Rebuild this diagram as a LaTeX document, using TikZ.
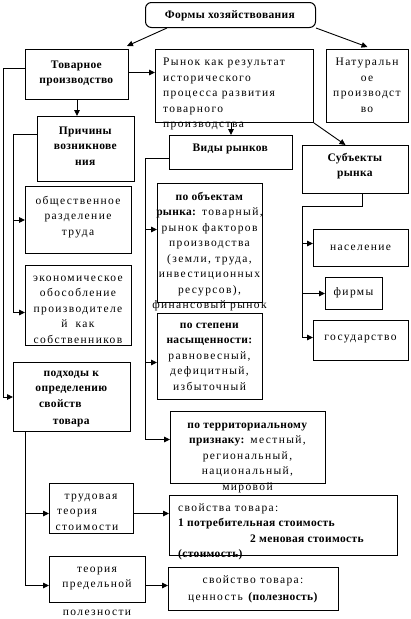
\documentclass[tikz,border=0pt]{standalone}
\usepackage{fontspec}
\setmainfont{Liberation Serif}[LetterSpace=12,BoldFeatures={LetterSpace=3}]
\usetikzlibrary{arrows.meta}
\begin{document}
\begin{tikzpicture}[x=1pt,y=-1pt,
  box/.style={draw,line width=1pt,inner sep=0pt,anchor=north west},
  txt/.style={inner sep=0pt,align=center,font=\fontsize{11.5pt}{15.5pt}\selectfont},
  txl/.style={txt,align=left,anchor=north west},
  ln/.style={line width=0.9pt},
  arr/.style={ln,-{Triangle[length=6pt,width=5.5pt]}}]
\useasboundingbox[fill=white] (0,0) rectangle (410,619);
\newcommand\rbox[6][]{\node[box,#1,minimum width=#5pt,minimum height=#6pt] (#2) at (#3,#4) {};}
% boxes
\rbox[rounded corners=6pt]{forms}{145}{2}{170}{25}
\rbox{tov}{25}{49}{103}{50}
\rbox{rynok}{155}{49}{158}{73}
\rbox{nat}{326}{49}{82}{73}
\rbox{prich}{37}{116}{97}{65}
\rbox{obsh}{25}{186}{106}{67}
\rbox{ekon}{25}{265}{106}{80}
\rbox{podh}{13}{362}{117}{69}
\rbox{vidy}{169}{135}{123}{34}
\rbox{subj}{302}{145}{106}{48}
\rbox{pobj}{157}{183}{105}{119}
\rbox{pstep}{157}{313}{105}{86}
\rbox{pterr}{170}{411}{155}{72}
\rbox{nas}{313}{229}{95}{37}
\rbox{firm}{325}{277}{57}{32}
\rbox{gos}{313}{320}{95}{40}
\rbox{trud}{49}{483}{84}{50}
\rbox{pred}{49}{556}{96}{46}
\rbox{svva}{169}{495}{228}{60}
\rbox{svvo}{168}{567}{170}{43}
% texts
\node[txt,anchor=north] (t-forms) at (230,7) {\strut\textbf{Формы хозяйствования}};
\node[txt,anchor=north] (t-tov) at (76.5,57) {\strut\textbf{Товарное}\\\textbf{производство}};
\node[txl] (t-rynok) at (163,54.5) {\strut Рынок как результат\\исторического\\процесса развития\\товарного\\производства};
\node[txt,anchor=north] (t-nat) at (367,54.5) {\strut Натуральн\\ое\\производст\\во};
\node[txt,anchor=north] (t-prich) at (85.5,123) {\strut\textbf{Причины}\\\textbf{возникнове}\\\textbf{ния}};
\node[txt,anchor=north] (t-obsh) at (78,193) {\strut общественное\\разделение\\труда};
\node[txt,anchor=north] (t-ekon) at (78,270) {\strut экономическое\\обособление\\производителе\\й\hspace{8pt}как\\собственников};
\node[txt,anchor=north] (t-podh) at (71.5,365) {\strut\textbf{подходы к}\\\textbf{определению}\\\textbf{свойств}\rule{22pt}{0pt}\\[1.5pt]\textbf{товара}};
\node[txt,anchor=north] (t-vidy) at (230.5,140) {\strut\textbf{Виды рынков}};
\node[txt,anchor=north] (t-subj) at (355,150) {\strut\textbf{Субъекты}\\\textbf{рынка}};
\node[txt,anchor=north] (t-pobj) at (209.5,189) {\strut\textbf{по объектам}\\\textbf{рынка:} товарный,\\рынок факторов\\производства\\(земли, труда,\\инвестиционных\\ресурсов),\\финансовый рынок};
\node[txt,anchor=north] (t-pstep) at (209.5,317) {\strut\textbf{по степени}\\\textbf{насыщенности:}\\равновесный,\\дефицитный,\\избыточный};
\node[txt,anchor=north] (t-pterr) at (247.5,417) {\strut\textbf{по территориальному}\\\textbf{признаку:} местный,\\региональный,\\национальный,\\мировой};
\node[txt,anchor=north] (t-nas) at (360.5,239) {\strut население};
\node[txt,anchor=north] (t-firm) at (353.5,284) {\strut фирмы};
\node[txt,anchor=north] (t-gos) at (360.5,329) {\strut государство};
\node[txt,anchor=north] (t-trud) at (91,488) {\strut трудовая\\теория\rule{28pt}{0pt}\\стоимости\rule{8pt}{0pt}};
\node[txt,anchor=north] (t-pred) at (97,561) {\strut теория\\предельной\\[12pt]полезности};
\node[txl] (t-svva) at (178,500) {\strut свойства товара:\\\textbf{1 потребительная стоимость}\\\hspace*{72pt}\textbf{2 меновая стоимость}\\\textbf{(стоимость)}};
\node[txt,anchor=north] (t-svvo) at (253,572) {\strut свойство товара:\\[1.5pt]ценность \textbf{(полезность)}};
% bus coordinates
\coordinate (busA) at (3,0);
\coordinate (busB) at (13,0);
\coordinate (busC) at (145,0);
\coordinate (busD) at (302,0);
\coordinate (busE) at (25,0);
\coordinate (c-tovw) at ([yshift=6pt]tov.west);
\coordinate (c-tove) at ([yshift=2pt]tov.east);
\coordinate (c-prw) at ([yshift=15pt]prich.west);
\coordinate (c-ekw) at ([yshift=-7pt]ekon.west);
\coordinate (c-vw) at ([yshift=-6pt]vidy.west);
\coordinate (c-po) at ([yshift=13.5pt]pobj.west);
\coordinate (c-ps) at ([yshift=-6pt]pstep.west);
\coordinate (c-pt) at ([yshift=8pt]pterr.west);
\coordinate (c-ss) at ([xshift=7pt]subj.south);
\coordinate (c-nas) at ([yshift=4.5pt]nas.west);
\coordinate (c-gos) at ([yshift=3pt]gos.west);
\coordinate (c-trw) at ([yshift=-5pt]trud.west);
\coordinate (c-tre) at ([yshift=-5pt]trud.east);
\coordinate (c-prdw) at ([yshift=-6pt]pred.west);
\coordinate (c-prde) at ([yshift=-6pt]pred.east);
% connectors
\draw[arr] ([xshift=22pt]forms.south west) -- ([xshift=-2pt,yshift=3pt]tov.north east);
\draw[arr] (forms.south east) -- ([yshift=2pt]nat.north);
\draw[arr] (c-tove) -- (c-tove -| rynok.west);
\draw[arr] (tov.south) -- (tov.south |- prich.north);
\draw[arr] (c-tovw) -| (busA |- podh.west) -- (podh.west);
\draw[arr] (c-prw) -| (busB |- c-ekw) -- (c-ekw);
\draw[arr] (busB |- obsh.west) -- (obsh.west);
\draw[arr] (vidy.north |- rynok.south) -- (vidy.north);
\draw[arr] (rynok.south east) -- ([xshift=-10pt]subj.north);
\draw[arr] (c-vw) -| (busC |- c-pt) -- (c-pt);
\draw[arr] (busC |- c-po) -- (c-po);
\draw[arr] (busC |- c-ps) -- (c-ps);
\draw[arr] (c-ss) -- ++(0,12) -| (busD |- c-gos) -- (c-gos);
\draw[arr] (busD |- c-nas) -- (c-nas);
\draw[arr] (busD |- firm.west) -- (firm.west);
\draw[arr] (busE |- podh.south) -- (busE |- c-prdw) -- (c-prdw);
\draw[arr] (busE |- c-trw) -- (c-trw);
\draw[arr] (c-tre) -- (c-tre -| svva.west);
\draw[arr] (c-prde) -- (c-prde -| svvo.west);
\end{tikzpicture}
\end{document}
